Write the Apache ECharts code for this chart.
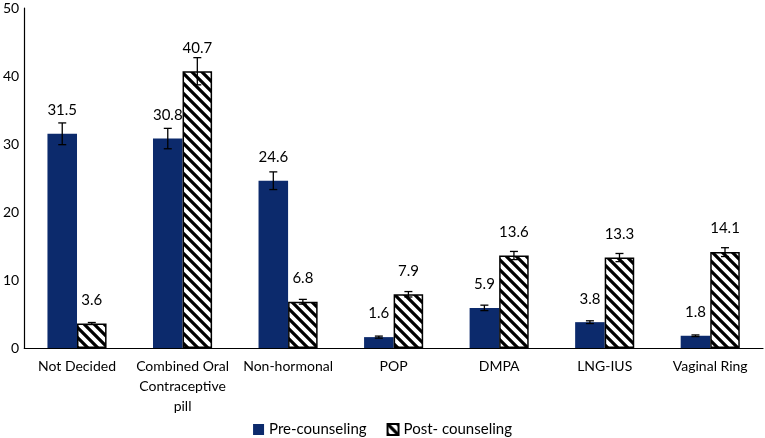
<!DOCTYPE html>
<html>
<head>
<meta charset="utf-8">
<script src="https://cdn.jsdelivr.net/npm/echarts@6/dist/echarts.min.js"></script>
<style>html,body{margin:0;padding:0;background:#fff}#c{width:765px;height:438px}</style>
</head>
<body>
<div id="c"></div>
<script>
var categories = ['Not Decided', 'Combined Oral\nContraceptive\npill', 'Non-hormonal', 'POP', 'DMPA', 'LNG-IUS', 'Vaginal Ring'];
var preValues = [31.5, 30.8, 24.6, 1.6, 5.9, 3.8, 1.8];
var postValues = [3.6, 40.7, 6.8, 7.9, 13.6, 13.3, 14.1];
var preErr = [1.6, 1.5, 1.3, 0.15, 0.4, 0.2, 0.12];
var postErr = [0.15, 2.0, 0.35, 0.4, 0.6, 0.6, 0.65];
var yTicks = [0, 10, 20, 30, 40, 50];
var seriesNames = ['Pre-counseling', 'Post- counseling'];

var FONT = 'Lato';
var navy = '#0C2A6C';

function makeHatch() {
  var c = document.createElement('canvas');
  c.width = 10; c.height = 10;
  var g = c.getContext('2d');
  g.fillStyle = '#fff';
  g.fillRect(0, 0, 10, 10);
  g.strokeStyle = '#000';
  g.lineWidth = 3.2;
  g.beginPath();
  for (var k = -2; k <= 2; k++) {
    g.moveTo(k * 10 - 5, -5);
    g.lineTo(k * 10 + 15, 15);
  }
  g.stroke();
  return c;
}
var hatch = { image: makeHatch(), repeat: 'repeat' };

var BAR_FRAC = 0.28;

function errRender(values, errs, side) {
  return function (params, api) {
    var i = api.value(0);
    var v = values[i], e = errs[i];
    var band = api.size([1, 0])[0];
    var c = api.coord([i, v]);
    var x = c[0] + side * band * BAR_FRAC / 2;
    var top = api.coord([i, v + e])[1];
    var bot = api.coord([i, v - e])[1];
    var hw = 4;
    var style = { stroke: '#000', lineWidth: 1.3 };
    return {
      type: 'group',
      children: [
        { type: 'line', shape: { x1: x, y1: top, x2: x, y2: bot }, style: style },
        { type: 'line', shape: { x1: x - hw, y1: top, x2: x + hw, y2: top }, style: style },
        { type: 'line', shape: { x1: x - hw, y1: bot, x2: x + hw, y2: bot }, style: style }
      ]
    };
  };
}

var chart = echarts.init(document.getElementById('c'));
chart.setOption({
  animation: false,
  textStyle: { fontFamily: FONT },
  grid: { left: 23, right: 2, top: 8, bottom: 90, containLabel: false },
  legend: {
    data: seriesNames,
    left: 'center',
    top: 422,
    padding: 0,
    icon: 'rect',
    itemWidth: 11,
    itemHeight: 11,
    itemGap: 20,
    textStyle: { fontFamily: FONT, fontSize: 15, color: '#000' }
  },
  xAxis: {
    type: 'category',
    data: categories,
    axisLine: { lineStyle: { color: '#000', width: 1.2 } },
    axisTick: { show: false },
    axisLabel: { color: '#000', fontSize: 14, fontFamily: FONT, margin: 8, lineHeight: 20, interval: 0 }
  },
  yAxis: {
    type: 'value',
    min: 0, max: 50, interval: 10,
    axisLine: { show: true, lineStyle: { color: '#000', width: 1.2 } },
    axisTick: { show: false },
    splitLine: { show: false },
    axisLabel: { color: '#000', fontSize: 14, fontFamily: FONT, margin: 5,
      formatter: function (v) { return yTicks.indexOf(v) >= 0 ? String(v) : ''; } }
  },
  series: [
    {
      name: seriesNames[0], type: 'bar', data: preValues,
      barWidth: (BAR_FRAC * 100) + '%', barGap: '0%',
      itemStyle: { color: navy },
      label: { show: true, position: 'top', distance: 16, color: '#000', fontSize: 15, fontFamily: FONT,
        formatter: function (p) { return p.value.toFixed(1); } }
    },
    {
      name: seriesNames[1], type: 'bar', data: postValues,
      barWidth: (BAR_FRAC * 100) + '%', barGap: '0%',
      itemStyle: { color: hatch, borderColor: '#000', borderWidth: 1.5 },
      label: { show: true, position: 'top', distance: 16, color: '#000', fontSize: 15, fontFamily: FONT,
        formatter: function (p) { return p.value.toFixed(1); } }
    },
    {
      type: 'custom', name: 'errPre', silent: true, z: 10,
      data: preValues.map(function (v, i) { return [i, v]; }),
      renderItem: errRender(preValues, preErr, -1)
    },
    {
      type: 'custom', name: 'errPost', silent: true, z: 10,
      data: postValues.map(function (v, i) { return [i, v]; }),
      renderItem: errRender(postValues, postErr, 1)
    }
  ]
});
</script>
</body>
</html>
